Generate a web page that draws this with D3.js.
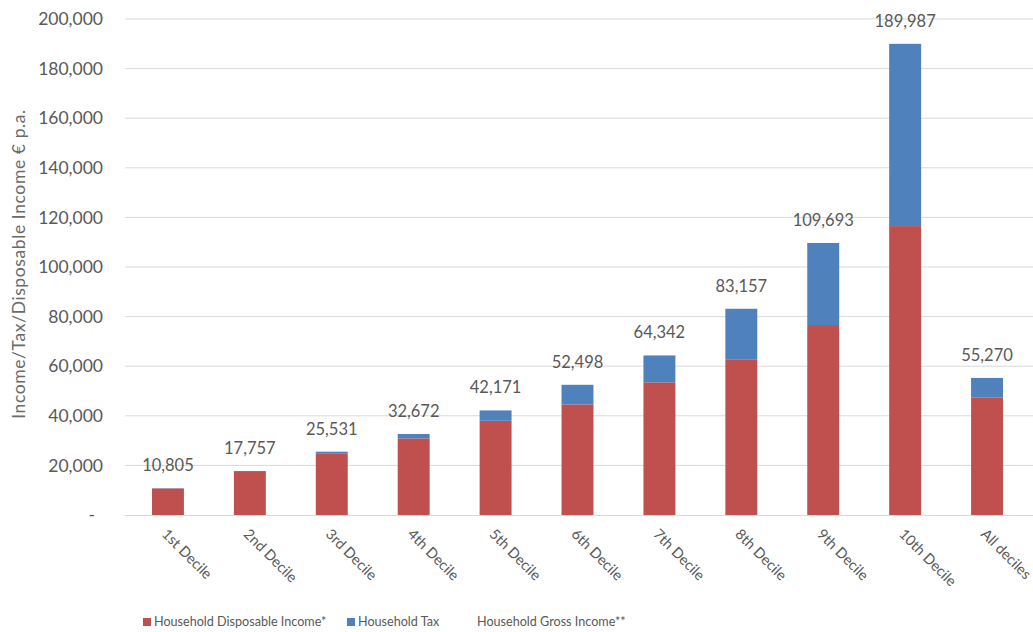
<!DOCTYPE html>
<html>
<head>
<meta charset="utf-8">
<script src="https://cdn.jsdelivr.net/npm/d3@7"></script>
<style>
  html, body { margin: 0; padding: 0; background: #fff; }
  svg { display: block; font-family: Lato, "Open Sans", sans-serif; }
</style>
</head>
<body>
<svg id="chart" width="1033" height="632"></svg>
<script>
const categories = ["1st Decile","2nd Decile","3rd Decile","4th Decile","5th Decile","6th Decile","7th Decile","8th Decile","9th Decile","10th Decile","All deciles"];
const disposable = [10700, 17350, 24900, 30900, 38000, 44600, 53500, 62800, 76600, 116500, 47300];
const tax        = [105, 407, 631, 1772, 4171, 7898, 10842, 20357, 33093, 73487, 7970];
const gross      = [10805, 17757, 25531, 32672, 42171, 52498, 64342, 83157, 109693, 189987, 55270];
const yTicks     = [0, 20000, 40000, 60000, 80000, 100000, 120000, 140000, 160000, 180000, 200000];
const legendLabels = ["Household Disposable Income*", "Household Tax", "Household Gross Income**"];

const colors = { disp: "#C0504D", tax: "#4F81BD", text: "#595959", grid: "#D9D9D9" };

const svg = d3.select("#chart");
const plot = { left: 127, right: 1028, top: 19, bottom: 515 };

const x = d3.scaleBand().domain(categories).range([plot.left, plot.right]).paddingInner(0.61).paddingOuter(0.305);
const y = d3.scaleLinear().domain([0, 200000]).range([plot.bottom, plot.top]);

// gridlines
svg.append("g").selectAll("line").data(yTicks.filter(d => d > 0)).join("line")
  .attr("x1", plot.left - 2).attr("x2", plot.right + 5)
  .attr("y1", d => y(d)).attr("y2", d => y(d))
  .attr("stroke", colors.grid).attr("stroke-width", 1);

// y axis labels
const fmt = d3.format(",");
svg.append("g").selectAll("text").data(yTicks).join("text")
  .attr("x", d => d === 0 ? 95 : 103)
  .attr("y", d => y(d))
  .attr("dy", "0.35em")
  .attr("text-anchor", "end")
  .attr("fill", colors.text)
  .style("font-size", "17.5px")
  .text(d => d === 0 ? "-" : fmt(d));

// axis title
svg.append("text")
  .attr("transform", `translate(25, 264) rotate(-90)`)
  .attr("text-anchor", "middle")
  .attr("fill", "#6a6a6a")
  .style("font-size", "17.5px")
  .style("letter-spacing", "0.6px")
  .text("Income/Tax/Disposable Income € p.a.");

// bars
const stackData = categories.map((c, i) => ({ cat: c, disp: disposable[i], tax: tax[i], gross: gross[i] }));
const g = svg.append("g");
g.selectAll("rect.disp").data(stackData).join("rect").attr("class", "disp")
  .attr("x", d => x(d.cat)).attr("width", x.bandwidth())
  .attr("y", d => y(d.disp)).attr("height", d => y(0) - y(d.disp))
  .attr("fill", colors.disp);
g.selectAll("rect.tax").data(stackData).join("rect").attr("class", "tax")
  .attr("x", d => x(d.cat)).attr("width", x.bandwidth())
  .attr("y", d => y(d.disp + d.tax)).attr("height", d => y(d.disp) - y(d.disp + d.tax))
  .attr("fill", colors.tax);

// x axis line
svg.append("line")
  .attr("x1", plot.left - 2).attr("x2", plot.right + 5)
  .attr("y1", plot.bottom + 0.5).attr("y2", plot.bottom + 0.5)
  .attr("stroke", colors.grid).attr("stroke-width", 1);

// gross labels
svg.append("g").selectAll("text").data(stackData).join("text")
  .attr("x", d => x(d.cat) + x.bandwidth() / 2)
  .attr("y", d => y(d.gross) - 17)
  .attr("text-anchor", "middle")
  .attr("fill", colors.text)
  .style("font-size", "16.5px")
  .text(d => fmt(d.gross));

// x labels rotated
svg.append("g").selectAll("text").data(categories).join("text")
  .attr("transform", c => `translate(${x(c) + x.bandwidth() / 2 - 7}, ${plot.bottom + 20}) rotate(45)`)
  .attr("text-anchor", "start")
  .attr("fill", colors.text)
  .style("font-size", "14.5px")
  .text(c => c);

// legend
const legend = svg.append("g");
const legendItems = [
  { label: legendLabels[0], color: colors.disp, x: 143 },
  { label: legendLabels[1], color: colors.tax, x: 347 },
  { label: legendLabels[2], color: null, x: 466 }
];
legendItems.forEach(it => {
  if (it.color) {
    legend.append("rect").attr("x", it.x).attr("y", 618).attr("width", 8).attr("height", 8).attr("fill", it.color);
  }
  legend.append("text").attr("x", it.x + 11).attr("y", 622).attr("dy", "0.35em")
    .attr("fill", colors.text).style("font-size", "12.6px").text(it.label);
});
</script>
</body>
</html>
